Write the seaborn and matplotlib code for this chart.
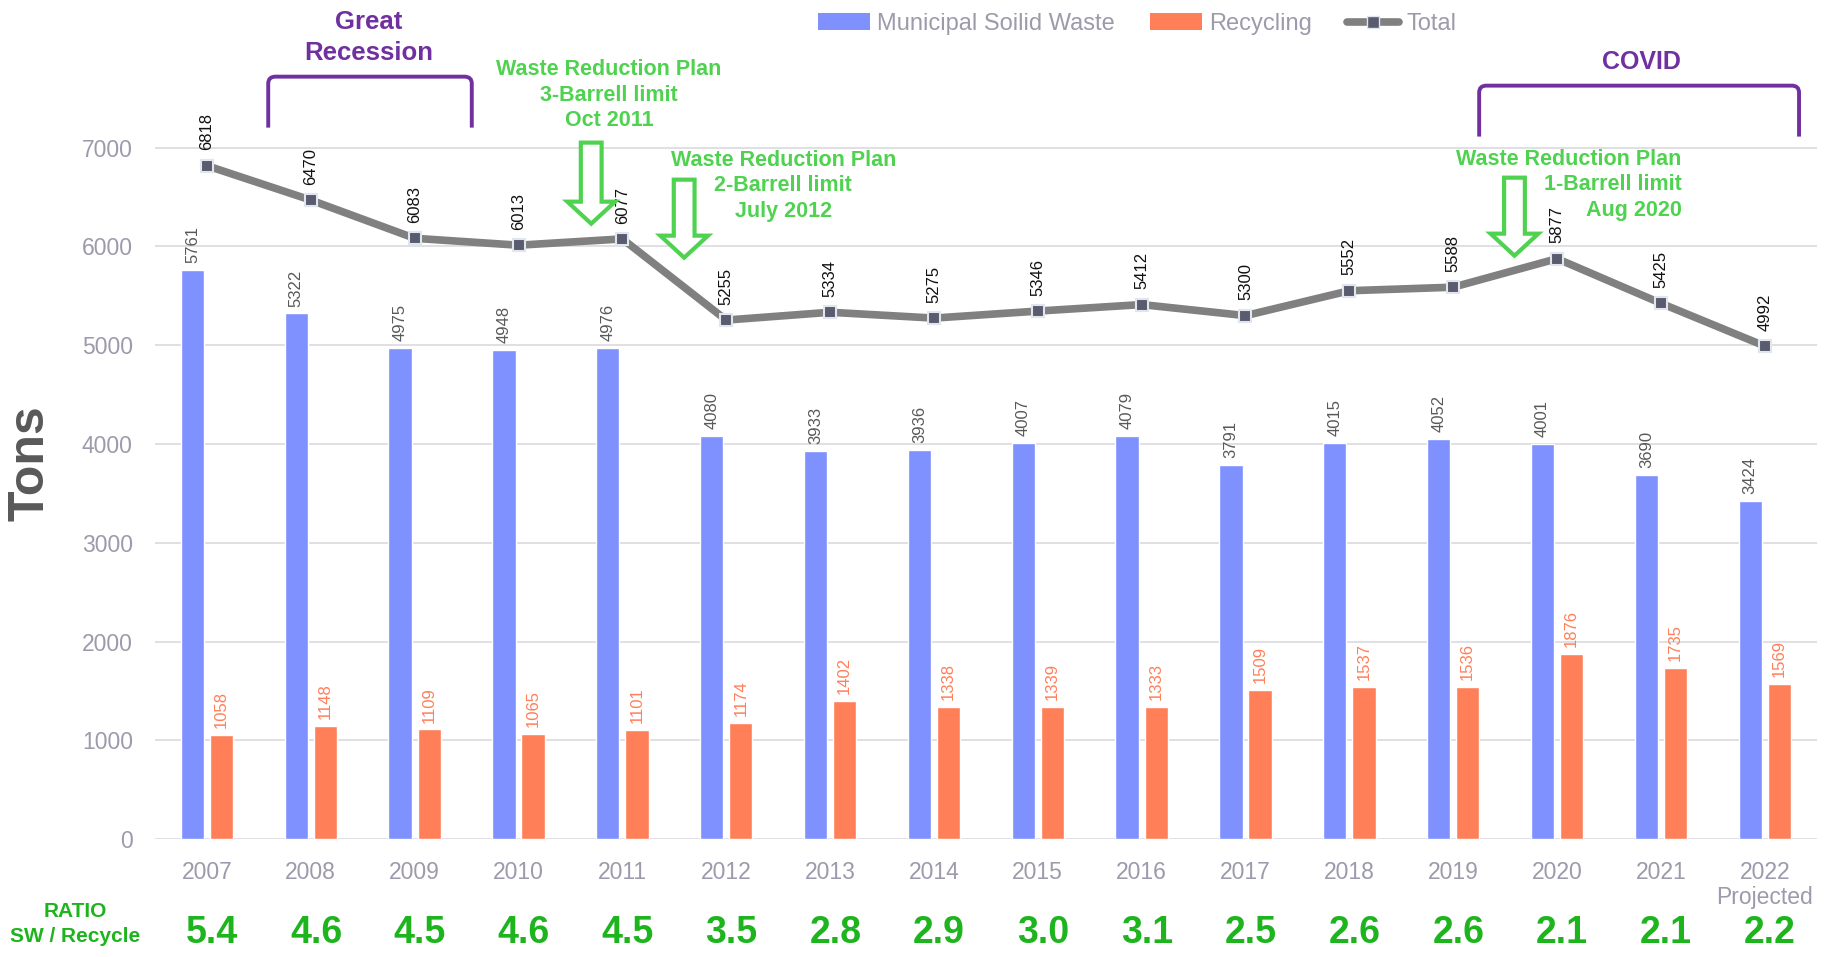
import numpy as np
import pandas as pd
import matplotlib
matplotlib.use("Agg")
import matplotlib.pyplot as plt
import matplotlib.transforms as mtrans
import seaborn as sns
from matplotlib import font_manager
from matplotlib.patches import FancyArrow, Patch, PathPatch
from matplotlib.lines import Line2D
from matplotlib.path import Path

# ---- data -----------------------------------------------------------------
years = ["2007", "2008", "2009", "2010", "2011", "2012", "2013", "2014",
         "2015", "2016", "2017", "2018", "2019", "2020", "2021", "2022"]
msw = [5761, 5322, 4975, 4948, 4976, 4080, 3933, 3936,
       4007, 4079, 3791, 4015, 4052, 4001, 3690, 3424]
recycling = [1058, 1148, 1109, 1065, 1101, 1174, 1402, 1338,
             1339, 1333, 1509, 1537, 1536, 1876, 1735, 1569]
total = [6818, 6470, 6083, 6013, 6077, 5255, 5334, 5275,
         5346, 5412, 5300, 5552, 5588, 5877, 5425, 4992]
ratio = ["5.4", "4.6", "4.5", "4.6", "4.5", "3.5", "2.8", "2.9",
         "3.0", "3.1", "2.5", "2.6", "2.6", "2.1", "2.1", "2.2"]
tick_labels = years[:-1] + ["2022\nProjected"]
series_names = ["Municipal Soilid Waste", "Recycling"]

# ---- style ----------------------------------------------------------------
BLUE = "#7f90ff"
ORANGE = "#ff7f59"
LINE_GRAY = "#808080"
MARKER = "#5b5b6f"
TICK_GRAY = "#9c9aab"
GRID = "#dcdce2"
GREEN = "#4fd24f"
DARK_GREEN = "#1eb41e"
PURPLE = "#7030a0"

sns.set_theme(style="white")
plt.rcParams["font.family"] = ["Liberation Sans", "DejaVu Sans"]
installed = {f.name for f in font_manager.fontManager.ttflist}
narrow = (["Liberation Sans Narrow", "Liberation Sans", "DejaVu Sans"]
          if "Liberation Sans Narrow" in installed
          else ["Liberation Sans", "DejaVu Sans"])

df = pd.DataFrame({
    "year": years * 2,
    "tons": msw + recycling,
    "series": [series_names[0]] * len(years) + [series_names[1]] * len(years),
})

fig = plt.figure(figsize=(18.26, 9.57), dpi=100)
ax = fig.add_axes([0.0849, 0.1233, 0.910, 0.8255])

sns.barplot(data=df, x="year", y="tons", hue="series", order=years,
            hue_order=series_names, palette=[BLUE, ORANGE],
            width=0.56, gap=0.2, saturation=1, legend=False, ax=ax, zorder=2)

xpos = np.arange(len(years))
sns.lineplot(x=xpos, y=total, ax=ax, color=LINE_GRAY, linewidth=5.5,
             marker="s", markersize=9, markerfacecolor=MARKER,
             markeredgecolor="#dfe6ee", markeredgewidth=1.5, sort=False,
             zorder=4)

ax.set_xlim(-0.5, len(years) - 0.5)
ax.set_ylim(0, 8000)
ax.set_yticks(np.arange(0, 7001, 1000))
ax.set_xticks(xpos)
ax.set_xticklabels(tick_labels)
ax.set_xlabel("")
ax.set_ylabel("")
ax.grid(axis="y", color=GRID, linewidth=1.3, zorder=0)
ax.set_axisbelow(True)
for s in ax.spines.values():
    s.set_visible(False)
ax.tick_params(axis="both", length=0, labelsize=16.5, labelcolor=TICK_GRAY)
ax.tick_params(axis="y", pad=16)
ax.tick_params(axis="x", pad=16)
for lbl in ax.get_xticklabels():
    lbl.set_linespacing(1.1)

# ---- value labels ---------------------------------------------------------
label_colors = ["#595959", ORANGE]
for cont, col in zip(ax.containers, label_colors):
    for bar in cont:
        h = bar.get_height()
        ax.annotate(f"{h:.0f}", (bar.get_x() + bar.get_width() / 2, h),
                    xytext=(0, 5), textcoords="offset points", rotation=90,
                    ha="center", va="bottom", fontsize=12, color=col)
for x, v in zip(xpos, total):
    ax.annotate(f"{v}", (x, v), xytext=(0, 11), textcoords="offset points",
                rotation=90, ha="center", va="bottom", fontsize=12,
                color="#111111")

# ---- legend ---------------------------------------------------------------
handles = [
    Patch(facecolor=BLUE, edgecolor="none"),
    Patch(facecolor=ORANGE, edgecolor="none"),
    Line2D([], [], color=LINE_GRAY, linewidth=5.5, marker="s", markersize=8,
           markerfacecolor=MARKER, markeredgecolor="#dfe6ee"),
]
fig.legend(handles, series_names + ["Total"], loc="center",
           bbox_to_anchor=(0.6227, 0.975), ncol=3, frameon=False,
           fontsize=17, handlelength=2.2, handletextpad=0.3,
           columnspacing=1.5, labelcolor=TICK_GRAY)

# ---- axis title -----------------------------------------------------------
fig.text(0.0168, 0.516, "Tons", rotation=90, fontsize=36, fontweight="bold",
         color="#595959", ha="center", va="center")

# ---- ratio row ------------------------------------------------------------
row = mtrans.blended_transform_factory(ax.transData, fig.transFigure)
for x, r in zip(xpos, ratio):
    ax.text(x + 0.05, 0.025, r, transform=row, ha="center", va="center",
            fontsize=27, fontweight="bold", color=DARK_GREEN, clip_on=False)
fig.text(0.0411, 0.0345, "RATIO\nSW / Recycle", ha="center", va="center",
         fontsize=15, fontweight="bold", color=DARK_GREEN, linespacing=1.35)

# ---- period brackets ------------------------------------------------------
def bracket(x0, x1, ybot, ytop, rx=0.07, ry=70):
    verts = [(x0, ybot), (x0, ytop - ry), (x0, ytop), (x0 + rx, ytop),
             (x1 - rx, ytop), (x1, ytop), (x1, ytop - ry), (x1, ybot)]
    codes = [Path.MOVETO, Path.LINETO, Path.CURVE3, Path.CURVE3,
             Path.LINETO, Path.CURVE3, Path.CURVE3, Path.LINETO]
    ax.add_patch(PathPatch(Path(verts, codes), fill=False, edgecolor=PURPLE,
                           linewidth=2.8, clip_on=False, zorder=5))

bracket(0.59, 2.55, 7204, 7720)
bracket(12.25, 15.33, 7113, 7629)
ax.text(1.554, 8115, "Great\nRecession", ha="center", va="center",
        fontsize=18.5, fontweight="bold", color=PURPLE, linespacing=1.4,
        family=narrow, clip_on=False)
ax.text(13.81, 7872, "COVID", ha="center", va="center", fontsize=18,
        fontweight="bold", color=PURPLE, clip_on=False)

# ---- policy notes (one text per line) -------------------------------------
notes = [
    (3.87, 7533, "center", ["Waste Reduction Plan", "3-Barrell limit", "Oct 2011"]),
    (5.55, 6616, "center", ["Waste Reduction Plan", "2-Barrell limit", "July 2012"]),
    (14.20, 6626, "right", ["Waste Reduction Plan", "1-Barrell limit", "Aug 2020"]),
]
line_step = 18.4  # points between note lines
for x, y, ha, lines in notes:
    for k, line in enumerate(lines):
        ax.annotate(line, (x, y), xytext=(0, (1 - k) * line_step),
                    textcoords="offset points", ha=ha, va="center",
                    fontsize=15.5, fontweight="bold", color=GREEN,
                    family=narrow, annotation_clip=False, zorder=6)

arrows = [(3.70, 7052, 6231), (4.595, 6677, 5887), (12.59, 6697, 5907)]
for x, top, tip in arrows:
    ax.add_patch(FancyArrow(x, top, 0, tip - top, width=0.2, head_width=0.46,
                            head_length=223, length_includes_head=True,
                            facecolor="white", edgecolor=GREEN, linewidth=3,
                            clip_on=False, zorder=6))

fig.savefig("out.png", dpi=100)
